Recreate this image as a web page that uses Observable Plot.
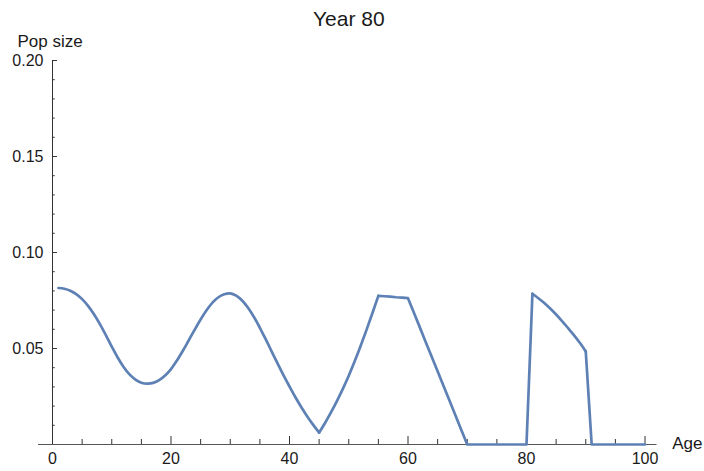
<!DOCTYPE html>
<html>
<head>
<meta charset="utf-8">
<script src="https://cdn.jsdelivr.net/npm/d3@7"></script>
<script src="https://cdn.jsdelivr.net/npm/@observablehq/plot@0.6"></script>
<style>
  html, body { margin: 0; padding: 0; background: #fff; }
</style>
</head>
<body>
<div id="chart"></div>
<script>
const titleText = "Year 80";
const xLabel = "Age";
const yLabel = "Pop size";

const ages = [1,2,3,4,5,6,7,8,9,10,11,12,13,14,15,16,17,18,19,20,
  21,22,23,24,25,26,27,28,29,30,31,32,33,34,35,36,37,38,39,40,
  41,42,43,44,45,46,47,48,49,50,51,52,53,54,55,56,57,58,59,60,
  61,62,63,64,65,66,67,68,69,70,71,72,73,74,75,76,77,78,79,80,
  81,82,83,84,85,86,87,88,89,90,91,92,93,94,95,96,97,98,99,100];

const popSize = [
  0.0815,0.0811,0.0801,0.0783,0.0757,0.0722,0.0678,0.0627,0.0570,0.0510,
  0.0453,0.0404,0.0365,0.0338,0.0322,0.0317,0.0321,0.0335,0.0359,0.0393,
  0.0437,0.0488,0.0543,0.0598,0.0651,0.0699,0.0739,0.0767,0.0783,0.0787,
  0.0775,0.0750,0.0712,0.0664,0.0608,0.0547,0.0484,0.0421,0.0360,0.0302,
  0.0246,0.0194,0.0146,0.0102,0.0062,0.0112,0.0167,0.0226,0.0290,0.0358,
  0.0433,0.0513,0.0597,0.0685,0.0774,0.0772,0.0770,0.0767,0.0765,0.0762,
  0.0686,0.0610,0.0533,0.0457,0.0381,0.0305,0.0229,0.0152,0.0076,0,
  0,0,0,0,0,0,0,0,0,0,
  0.0785,0.0762,0.0737,0.0708,0.0677,0.0643,0.0607,0.0570,0.0530,0.0485,
  0,0,0,0,0,0,0,0,0,0];

// age ranges drawn as smooth curves, and those drawn as straight segments
const smoothRanges = [[1, 45], [45, 55], [81, 90]];
const straightRanges = [[55, 81], [90, 100]];

const xMajorTicks = [0, 20, 40, 60, 80, 100];
const xMinorTicks = [5,10,15,25,30,35,45,50,55,65,70,75,85,90,95];
const yMajorTicks = [0.05, 0.10, 0.15, 0.20];
const yMinorTicks = [0.01,0.02,0.03,0.04,0.06,0.07,0.08,0.09,0.11,0.12,0.13,0.14,0.16,0.17,0.18,0.19];

const data = ages.map((a, i) => ({age: a, pop: popSize[i]}));
const pieces = ranges => ranges.flatMap(([a, b], k) =>
  data.filter(d => d.age >= a && d.age <= b).map(d => ({...d, piece: k})));

const lineColor = "#5e81b5";
const textColor = "#1a1a1a";

const chart = Plot.plot({
  width: 704,
  height: 471,
  marginLeft: 52,
  marginRight: 59.5,
  marginTop: 60,
  marginBottom: 27,
  x: {domain: [0, 100], axis: null},
  y: {domain: [0, 0.2], axis: null},
  style: {fontFamily: "'Liberation Sans', Arial, sans-serif", fontSize: "16px", background: "#fff", color: textColor},
  marks: [
    Plot.ruleY([0], {stroke: "#555", strokeWidth: 1, insetLeft: -14, insetRight: -12}),
    Plot.ruleX([0], {stroke: "#333", strokeWidth: 1}),
    Plot.axisX(xMinorTicks, {anchor: "bottom", tickSize: -5, tickFormat: () => "", label: null, stroke: "#333"}),
    Plot.axisX(xMajorTicks, {anchor: "bottom", tickSize: -8, tickPadding: 16, tickFormat: d => String(d), label: null, stroke: "#333", fill: textColor, fontSize: 16}),
    Plot.axisY(yMinorTicks, {anchor: "left", tickSize: -2.7, tickFormat: () => "", label: null, stroke: "#333"}),
    Plot.axisY(yMajorTicks, {anchor: "left", tickSize: -5, tickPadding: 14, tickFormat: d3.format(".2f"), label: null, stroke: "#333", fill: textColor, fontSize: 16}),
    Plot.line(pieces(smoothRanges), {x: "age", y: "pop", z: "piece", stroke: lineColor, strokeWidth: 2.7, curve: "catmull-rom"}),
    Plot.line(pieces(straightRanges), {x: "age", y: "pop", z: "piece", stroke: lineColor, strokeWidth: 2.7, curve: "linear"}),
    Plot.text([titleText], {frameAnchor: "top", lineAnchor: "middle", dy: -41.5, fontSize: 21, fill: textColor}),
    Plot.text([yLabel], {frameAnchor: "top-left", lineAnchor: "middle", textAnchor: "start", dx: -35, dy: -19.4, fontSize: 17, fill: textColor}),
    Plot.text([xLabel], {frameAnchor: "bottom-right", lineAnchor: "middle", textAnchor: "start", dx: 27.2, dy: -1.2, fontSize: 17, fill: textColor})
  ]
});
document.getElementById("chart").appendChild(chart);
</script>
</body>
</html>
